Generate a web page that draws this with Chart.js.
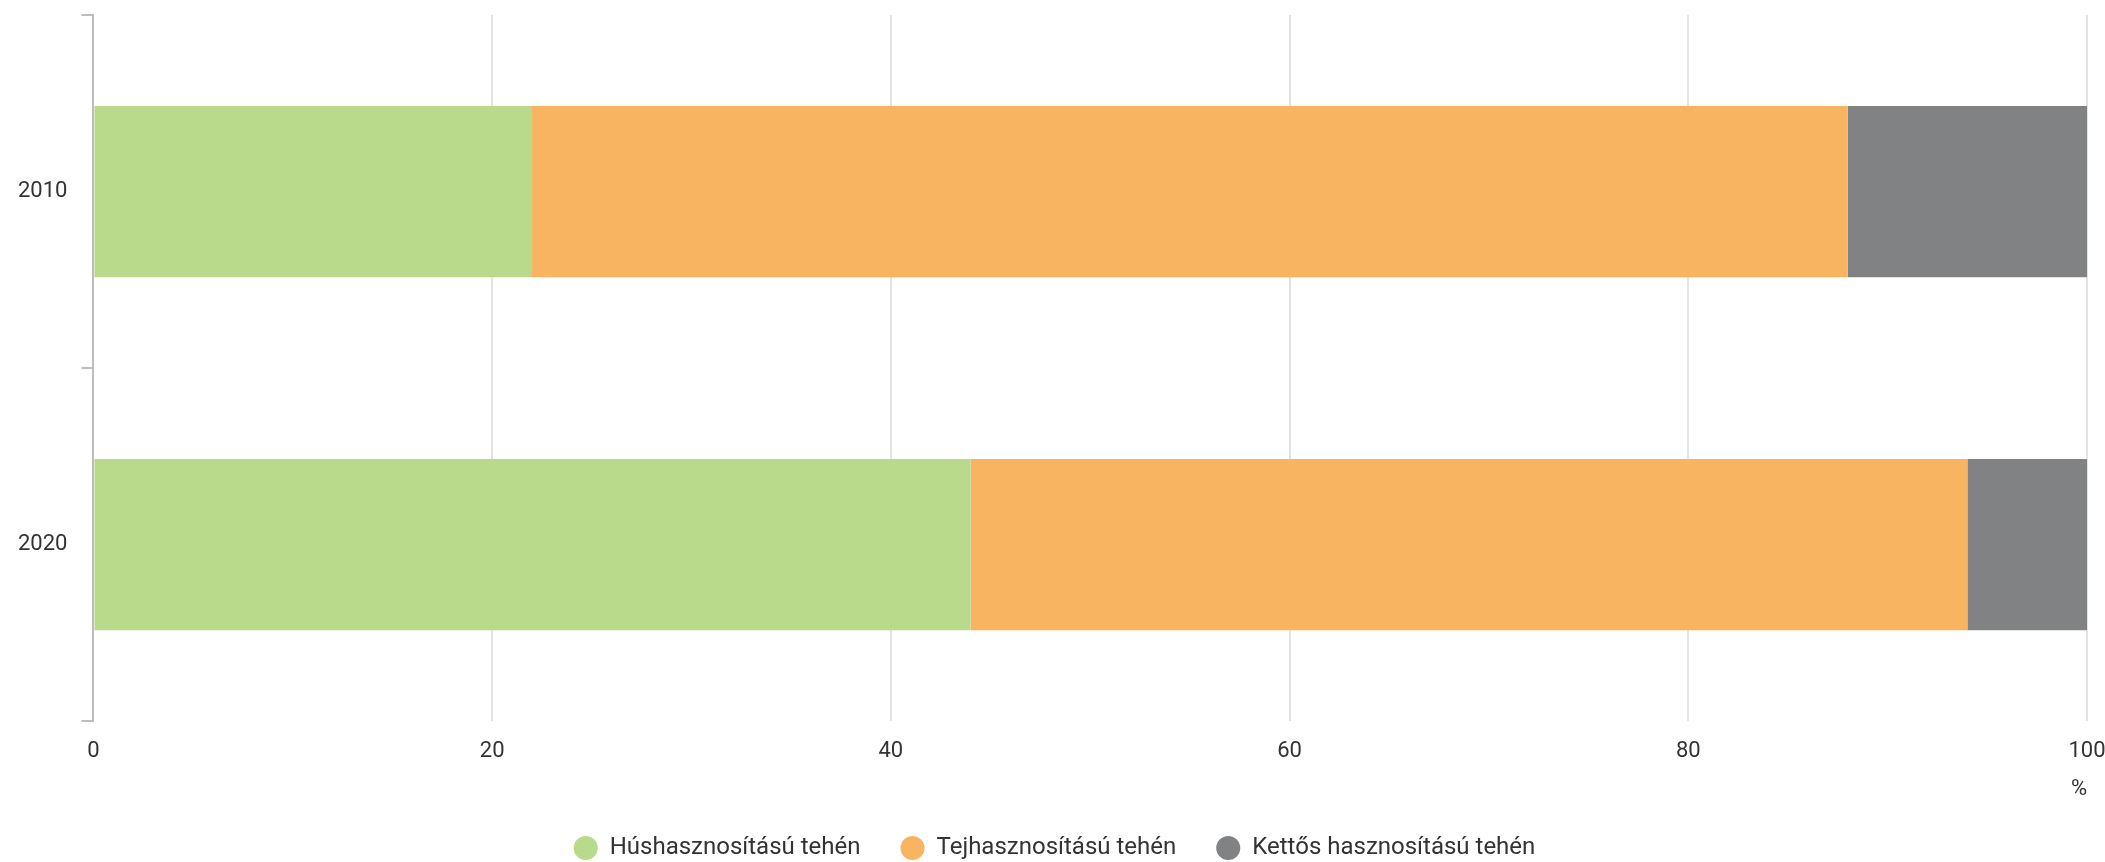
<!DOCTYPE html>
<html>
<head>
<meta charset="utf-8">
<script src="https://cdn.jsdelivr.net/npm/chart.js@4"></script>
<style>
  html, body { margin: 0; padding: 0; background: #fff; }
  #wrap { width: 2105px; height: 862px; }
</style>
</head>
<body>
<div id="wrap"><canvas id="chart" width="2105" height="862"></canvas></div>
<script>
const years = ["2010", "2020"];
const husValues = [22, 44];
const tejValues = [66, 50];
const kettosValues = [12, 6];
const seriesNames = ["Húshasznosítású tehén", "Tejhasznosítású tehén", "Kettős hasznosítású tehén"];
const xTicks = [0, 20, 40, 60, 80, 100];

const colors = {
  hus: "#b9d98b",
  tej: "#f9b462",
  kettos: "#818284",
  text: "#333333",
  grid: "#e3e3e3",
  axis: "#bdbdbd"
};

Chart.defaults.font.family = "Roboto";

new Chart(document.getElementById("chart").getContext("2d"), {
  type: "bar",
  data: {
    labels: years,
    datasets: [
      { label: seriesNames[0], data: husValues, backgroundColor: colors.hus },
      { label: seriesNames[1], data: tejValues, backgroundColor: colors.tej },
      { label: seriesNames[2], data: kettosValues, backgroundColor: colors.kettos }
    ]
  },
  options: {
    responsive: false,
    animation: false,
    indexAxis: "y",
    datasets: { bar: { categoryPercentage: 1, barPercentage: 0.485 } },
    layout: { padding: { left: 4, top: 15, right: 0, bottom: -8 } },
    scales: {
      x: {
        stacked: true,
        min: 0,
        max: 100,
        afterBuildTicks: axis => { axis.ticks = xTicks.map(v => ({ value: v })); },
        // the last label may hang over the right edge a little
        afterFit: axis => { axis.paddingRight = 18; },
        ticks: { color: colors.text, font: { size: 22 }, padding: 17 },
        grid: { color: colors.grid, lineWidth: 2, drawTicks: false },
        border: { display: false },
        title: {
          display: true,
          text: "%",
          align: "end",
          color: colors.text,
          font: { size: 22 },
          padding: { top: -5, bottom: -7 }
        }
      },
      y: {
        stacked: true,
        afterFit: axis => { axis.paddingTop = 0; axis.paddingBottom = 0; },
        ticks: { color: colors.text, font: { size: 22 }, padding: 14 },
        grid: { display: true, drawOnChartArea: false, offset: true, tickLength: 12, color: colors.axis, lineWidth: 2 },
        border: { display: true, color: colors.axis, width: 2 }
      }
    },
    plugins: {
      legend: {
        position: "bottom",
        labels: {
          usePointStyle: true,
          pointStyle: "circle",
          boxWidth: 24,
          boxHeight: 17,
          padding: 40,
          color: colors.text,
          font: { size: 24 }
        }
      },
      tooltip: { enabled: false }
    }
  }
});
</script>
</body>
</html>
